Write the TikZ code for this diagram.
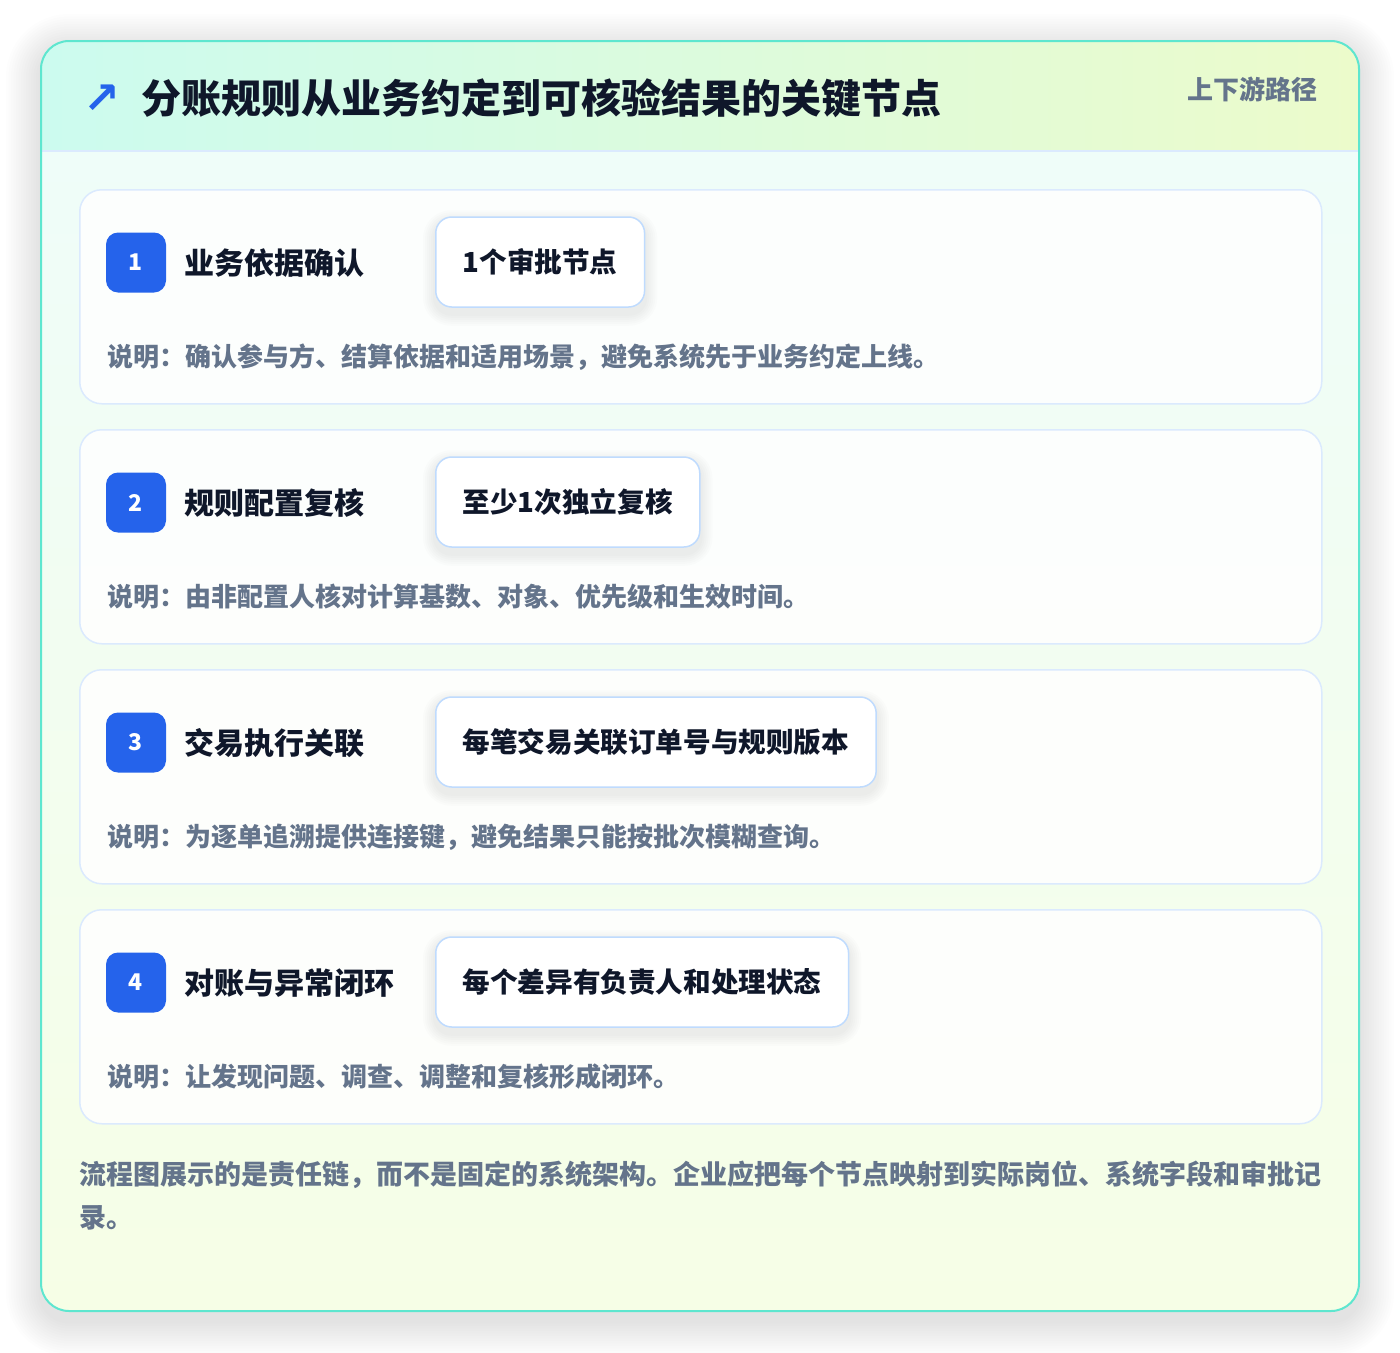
\documentclass[tikz,border=0pt]{standalone}
\usepackage{fontspec}
\setmainfont{Noto Sans CJK SC}
\newfontfamily\symfont{DejaVu Sans}

\definecolor{panelline}{HTML}{5EE6CF}
\definecolor{headleft}{HTML}{CCFBEF}
\definecolor{headright}{HTML}{ECFBCB}
\definecolor{bodytop}{HTML}{EFFDF9}
\definecolor{bodybottom}{HTML}{F6FEE6}
\definecolor{cardline}{HTML}{DBEAFE}
\definecolor{tagline}{HTML}{BFDBFE}
\definecolor{badgeblue}{HTML}{2563EB}
\definecolor{ink}{HTML}{0F172A}
\definecolor{muted}{HTML}{64748B}

\begin{document}
\begin{tikzpicture}[
    x=1pt,y=-1pt,
    stepcard/.style={draw=cardline,fill=white,fill opacity=.85,line width=1.5pt,
      rounded corners=22pt,minimum width=1242pt,minimum height=214pt,anchor=north west},
    badge/.style={fill=badgeblue,text=white,rounded corners=12pt,minimum size=60pt,
      inner sep=0pt,font=\bfseries\fontsize{23}{23}\selectfont},
    steptitle/.style={anchor=west,inner sep=0pt,text=ink,font=\bfseries\fontsize{30}{30}\selectfont},
    tagbox/.style={anchor=west,draw=tagline,fill=white,line width=1.5pt,rounded corners=16pt,
      minimum height=90pt,inner xsep=27pt,text=ink,font=\bfseries\fontsize{27.6}{27.6}\selectfont},
    softshade/.style={fill=black,opacity=#1},
    descline/.style={anchor=west,inner sep=0pt,text=muted,font=\bfseries\fontsize{26}{26}\selectfont},
    footline/.style={anchor=west,inner sep=0pt,text=muted,font=\bfseries\fontsize{27}{27}\selectfont}
  ]
  \fill[white] (0,0) rectangle (1400,1352);
  \useasboundingbox (0,0) rectangle (1400,1352);

  % outer panel shadow
  \foreach \k in {1,...,14}
    \fill[softshade=0.007,rounded corners=28pt+\k*2.5pt]
      (41-\k*2.5,49-\k*2.5) rectangle (1359+\k*2.5,1321+\k*2.5);

  % outer panel
  \begin{scope}
    \clip[rounded corners=28pt] (41,41) rectangle (1359,1311);
    \fill[white] (41,41) rectangle (1359,1311);
    \shade[top color=bodytop,bottom color=bodybottom] (41,151) rectangle (1359,1311);
    \shade[left color=headleft,right color=headright] (41,41) rectangle (1359,151);
    \draw[cardline,line width=1.5pt] (41,151) -- (1359,151);
  \end{scope}
  \draw[panelline,line width=2pt,rounded corners=28pt] (41,41) rectangle (1359,1311);

  % header
  \node[text=badgeblue,inner sep=0pt,font=\symfont\bfseries\fontsize{44}{44}\selectfont] (icon) at (102,99) {↗};
  \node[anchor=west,inner sep=0pt,text=ink,font=\bfseries\fontsize{40}{40}\selectfont] (title) at (141,98)
    {分账规则从业务约定到可核验结果的关键节点};
  \node[anchor=east,inner sep=0pt,text=muted,font=\bfseries\fontsize{26}{26}\selectfont] (route) at (1318,89)
    {上下游路径};

  % steps
  \foreach \n/\ttl/\tg/\dsc in {
      1/业务依据确认/1个审批节点/说明：确认参与方、结算依据和适用场景，避免系统先于业务约定上线。,
      2/规则配置复核/至少1次独立复核/说明：由非配置人核对计算基数、对象、优先级和生效时间。,
      3/交易执行关联/每笔交易关联订单号与规则版本/说明：为逐单追溯提供连接键，避免结果只能按批次模糊查询。,
      4/对账与异常闭环/每个差异有负责人和处理状态/说明：让发现问题、调查、调整和复核形成闭环。}{
    \pgfmathsetmacro\top{189+(\n-1)*240}
    \node[stepcard] (card\n) at (79,\top) {};
    \node[badge] (badge\n) at (136,\top+73.5) {\n};
    \node[steptitle] (name\n) at (184,\top+74) {\ttl};
    \node[tagbox,draw=none,fill=none,text opacity=0] (ghost\n) at (435,\top+73) {\tg};
    \foreach \k in {1,...,6}
      \fill[softshade=0.01,rounded corners=16pt+\k*2pt]
        ([xshift=-\k*2pt,yshift=\k*2pt-6pt]ghost\n.north west)
        rectangle ([xshift=\k*2pt,yshift=-\k*2pt-6pt]ghost\n.south east);
    \node[tagbox] (tag\n) at (435,\top+73) {\tg};
    \node[descline] (desc\n) at (107,\top+168) {\dsc};
  }

  % footer
  \node[footline] (foot1) at (79,1175)
    {流程图展示的是责任链，而不是固定的系统架构。企业应把每个节点映射到实际岗位、系统字段和审批记};
  \node[footline] (foot2) at (79,1218) {录。};
\end{tikzpicture}
\end{document}
